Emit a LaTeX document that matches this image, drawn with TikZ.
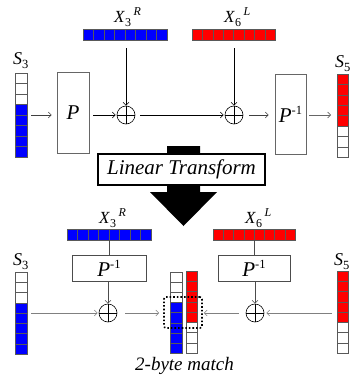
\documentclass[tikz,border=0pt]{standalone}
\usepackage{fontspec}
\setmainfont{Liberation Serif}
\usetikzlibrary{arrows.meta}
\newcommand{\vcells}[5]{\foreach \c [count=\i from 0] in {#5} {\filldraw[cellst, fill=\c] (#1,{#2+\i*#4}) rectangle ++(#3,#4);}}
\newcommand{\hcells}[5]{\foreach \c [count=\i from 0] in {#5} {\filldraw[cellst, fill=\c] ({#1+\i*#3},#2) rectangle ++(#3,#4);}}
\newcommand{\XLab}[2]{{\fontsize{17}{17}\selectfont\textit{X}\raisebox{-4pt}{\fontsize{12}{12}\selectfont #1}\hspace{2.5pt}\raisebox{7pt}{\fontsize{12}{12}\selectfont\textit{#2}}}}
\newcommand{\SLab}[1]{{\fontsize{18}{18}\selectfont\textit{S}\raisebox{-4.5pt}{\fontsize{12.5}{12.5}\selectfont #1}}}
\newcommand{\PInv}{\textit{P}\raisebox{8pt}{\fontsize{12.5}{12.5}\selectfont -1}}
\definecolor{myblue}{RGB}{0,0,255}
\definecolor{myred}{RGB}{255,0,0}
\begin{document}
\begin{tikzpicture}[x=1pt,y=-1pt,
  cellst/.style={draw=black!65, line width=0.5pt},
  ghost/.style={inner sep=0pt, outer sep=0pt, draw=none},
  pbox/.style={draw=black!60, line width=0.6pt, inner sep=0pt, font=\fontsize{21}{21}\selectfont},
  xor/.style={circle, draw=black, line width=0.6pt, minimum size=18pt, inner sep=0pt,
    path picture={\draw[line width=0.6pt] (path picture bounding box.north) -- (path picture bounding box.south)
      (path picture bounding box.west) -- (path picture bounding box.east);}},
  arr/.style={-{Straight Barb[length=3pt,width=6pt]}, line width=0.6pt},
  lab/.style={inner sep=0pt}
]
\useasboundingbox (0,0) rectangle (356,380);
% ---------- top section ----------
\hcells{83}{29}{10.5}{11}{myblue,myblue,myblue,myblue,myblue,myblue,myblue,myblue}
\node[ghost, minimum width=84pt, minimum height=11pt, anchor=north west] (xa) at (83,29) {};
\hcells{192}{29}{10.4}{11}{myred,myred,myred,myred,myred,myred,myred,myred}
\node[ghost, minimum width=83pt, minimum height=11pt, anchor=north west] (xb) at (192,29) {};
\node[lab, anchor=base west] (xalab) at (114,23) {\XLab{3}{R}};
\node[lab, anchor=base west] (xblab) at (224,23) {\XLab{6}{L}};

\vcells{15}{73}{12}{10.5}{white,white,white,myblue,myblue,myblue,myblue,myblue}
\node[ghost, minimum width=12pt, minimum height=84pt, anchor=north west] (s3t) at (15,73) {};
\node[lab, anchor=base west] (s3tlab) at (13,64) {\SLab{3}};
\vcells{337}{74}{11}{10.4}{myred,myred,myred,myred,myred,white,white,white}
\node[ghost, minimum width=11pt, minimum height=83pt, anchor=north west] (s5t) at (337,74) {};
\node[lab, anchor=base west] (s5tlab) at (335,67) {\SLab{5}};

\node[pbox, minimum width=32pt, minimum height=81pt] (P) at (73,112.5) {\textit{P}};
\node[pbox, minimum width=31pt, minimum height=80pt] (Pi) at (290.5,114) {\PInv};
\node[xor] (x1) at (126,115) {};
\node[xor] (x2) at (234,115) {};

\draw[arr, draw=black!75, shorten <=4pt, shorten >=5pt] (s3t.east) -- (s3t.east -| P.west);
\draw[arr, shorten <=4pt, shorten >=1pt] (x1 -| P.east) -- (x1.west);
\draw[arr, shorten <=5pt, shorten >=1pt] (x1.east) -- (x2.west);
\draw[arr, draw=black!75, shorten <=6pt, shorten >=6pt] (x2.east) -- (x2 -| Pi.west);
\draw[arr, draw=black!60, shorten <=3pt, shorten >=6pt] (x2 -| Pi.east) -- (x2 -| s5t.west);
\draw[arr, shorten <=8pt] (xa.south -| x1) -- (x1.north);
\draw[arr, shorten <=8pt] (xb.south -| x2) -- (x2.north);

% ---------- big arrow and Linear Transform ----------
\fill[black] (167,146) -- (200,146) -- (200,192) -- (217,192) -- (183.5,226) -- (150,192) -- (167,192) -- cycle;
\node[draw=black, line width=1.6pt, fill=white, minimum width=167pt, minimum height=31pt, inner sep=0pt,
  font=\fontsize{21}{21}\selectfont\itshape] (lt) at (181.5,169.5) {Linear Transform};

% ---------- bottom section ----------
\hcells{67}{229}{10.5}{11}{myblue,myblue,myblue,myblue,myblue,myblue,myblue,myblue}
\node[ghost, minimum width=84pt, minimum height=11pt, anchor=north west] (xc) at (67,229) {};
\hcells{213}{229}{10.25}{11}{myred,myred,myred,myred,myred,myred,myred,myred}
\node[ghost, minimum width=82pt, minimum height=11pt, anchor=north west] (xd) at (213,229) {};
\node[lab, anchor=base west] (xclab) at (99,223) {\XLab{3}{R}};
\node[lab, anchor=base west] (xdlab) at (245,223) {\XLab{6}{L}};

\node[pbox, draw=black!70, minimum width=74pt, minimum height=26pt] (PiL) at (109,268) {\PInv};
\node[pbox, draw=black!70, minimum width=72pt, minimum height=26pt] (PiR) at (254,268) {\PInv};
\node[xor] (x3) at (108,313) {};
\node[xor] (x4) at (255,313) {};

\vcells{15}{272}{12}{10.25}{white,white,white,myblue,myblue,myblue,myblue,myblue}
\node[ghost, minimum width=12pt, minimum height=82pt, anchor=north west] (s3b) at (15,272) {};
\node[lab, anchor=base west] (s3blab) at (13,265) {\SLab{3}};
\vcells{337}{271}{11}{10.25}{myred,myred,myred,myred,myred,white,white,white}
\node[ghost, minimum width=11pt, minimum height=82pt, anchor=north west] (s5b) at (337,271) {};
\node[lab, anchor=base west] (s5blab) at (334,265) {\SLab{5}};

\vcells{170}{272}{12}{10.15}{white,white,white,myblue,myblue,myblue,myblue,myblue}
\node[ghost, minimum width=12pt, minimum height=81pt, anchor=north west] (mb) at (170,272) {};
\vcells{186}{271}{11}{10.25}{myred,myred,myred,myred,myred,white,white,white}
\node[ghost, minimum width=11pt, minimum height=82pt, anchor=north west] (mr) at (186,271) {};
\node[draw=black, line width=1.6pt, dotted, rounded corners=2pt, minimum width=38pt, minimum height=31pt, inner sep=0pt] (match) at (183,312.5) {};
\node[lab, font=\fontsize{19}{19}\selectfont\itshape] (mlab) at (184.5,366) {2-byte match};

\draw[line width=0.6pt, draw=black!70] (xc.south -| PiL) -- (PiL.north);
\draw[line width=0.6pt, draw=black!70] (xd.south -| PiR) -- (PiR.north);
\draw[arr, draw=black!70] (PiL.south -| x3) -- (x3.north);
\draw[arr, draw=black!70] (PiR.south -| x4) -- (x4.north);
\draw[arr, draw=black!50, shorten <=4pt, shorten >=1pt] (s3b.east |- x3) -- (x3.west);
\draw[arr, draw=black!50, shorten <=8pt, shorten >=4pt] (x3.east) -- (x3 -| match.west);
\draw[arr, draw=black!50, shorten <=5pt, shorten >=2pt] (s5b.west |- x4) -- (x4.east);
\draw[arr, draw=black!50, shorten <=7pt, shorten >=1pt] (x4.west) -- (x4 -| match.east);
\end{tikzpicture}
\end{document}
